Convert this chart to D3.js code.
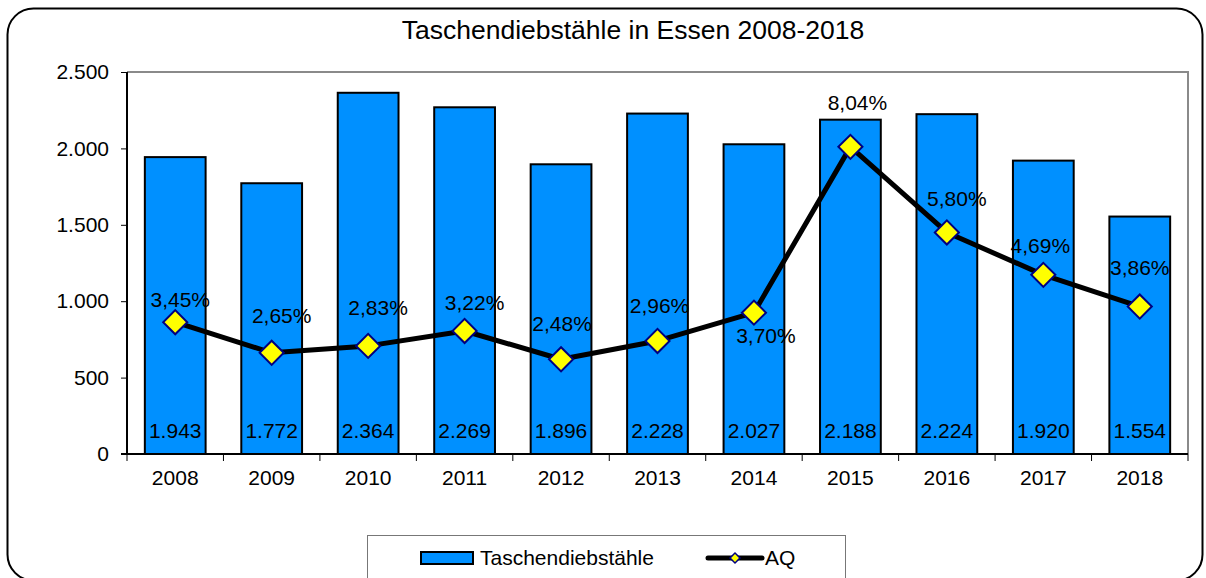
<!DOCTYPE html>
<html><head><meta charset="utf-8">
<script src="https://cdn.jsdelivr.net/npm/d3@7"></script>
<style>html,body{margin:0;padding:0;background:#fff;}svg{display:block;font-family:"Liberation Sans",Arial,sans-serif;}</style>
</head><body>
<svg id="c" width="1206" height="578"></svg>
<script>
const years = ["2008","2009","2010","2011","2012","2013","2014","2015","2016","2017","2018"];
const thefts = [1943,1772,2364,2269,1896,2228,2027,2188,2224,1920,1554];
const aq = [3.45,2.65,2.83,3.22,2.48,2.96,3.70,8.04,5.80,4.69,3.86];
const yTicks = [0,500,1000,1500,2000,2500];
const title = "Taschendiebstähle in Essen 2008-2018";
const seriesNames = ["Taschendiebstähle","AQ"];
// label placement offsets (layout only)
const aqLabelOffset = [[5,-23],[10,-37],[10,-38],[10,-29],[1,-36],[2,-35],[12,23],[7,-44],[10,-34],[-3,-29],[0,-39]];

const FS = 21;
const fmtInt = v => d3.format(",")(v).replace(/,/g,".");
const fmtPct = v => v.toFixed(2).replace(".",",")+"%";

const svg = d3.select("#c");
const L=127, R=1188, T=72, B=454;
const x = d3.scaleBand().domain(years).range([L,R]).paddingInner(0.37).paddingOuter(0.185);
const xb = d3.scaleBand().domain(years).range([L,R]);
const y = d3.scaleLinear().domain([0,2500]).range([B,T]);
const y2 = d3.scaleLinear().domain([0,10]).range([B,T]);

// frame
svg.append("rect").attr("x",7.5).attr("y",8.5).attr("width",1195).attr("height",572).attr("rx",26)
  .attr("fill","#fff").attr("stroke","#000").attr("stroke-width",2);

svg.append("text").attr("x",633).attr("y",39).attr("text-anchor","middle")
  .attr("font-size",26.5).attr("fill","#000").text(title);

// plot area border (top/right grey)
svg.append("path").attr("d",`M${L},${T}H${R}V${B}`).attr("fill","none").attr("stroke","#8a8a8a").attr("stroke-width",2);

// bars
svg.append("g").selectAll("rect").data(thefts).join("rect")
  .attr("x",(d,i)=>x(years[i])).attr("width",x.bandwidth())
  .attr("y",d=>y(d)).attr("height",d=>B-y(d))
  .attr("fill","#0090FF").attr("stroke","#000").attr("stroke-width",2);

// y axis
const ya = svg.append("g").attr("transform",`translate(${L},0)`)
  .call(d3.axisLeft(y).tickValues(yTicks).tickSize(6).tickPadding(12).tickFormat(fmtInt));
ya.select(".domain").attr("stroke","#000").attr("stroke-width",2).attr("d",`M0,${T}V${B}`);
ya.selectAll(".tick line").attr("stroke","#000");
ya.selectAll("text").attr("font-size",FS).attr("font-family","Liberation Sans, Arial, sans-serif").attr("fill","#000");

// x axis
const xa = svg.append("g").attr("transform",`translate(0,${B})`)
  .call(d3.axisBottom(xb).tickSize(0).tickPadding(16));
xa.select(".domain").attr("stroke","#000").attr("stroke-width",2).attr("d",`M${L-6},0H${R}`);
xa.selectAll("text").attr("font-size",FS).attr("font-family","Liberation Sans, Arial, sans-serif").attr("fill","#000");
// category separator ticks
svg.append("g").selectAll("line").data(years.concat(["end"])).join("line")
  .attr("x1",(d,i)=>L+i*xb.step()).attr("x2",(d,i)=>L+i*xb.step())
  .attr("y1",B).attr("y2",B+7).attr("stroke","#000").attr("stroke-width",1);

// bar value labels
svg.append("g").selectAll("text").data(thefts).join("text")
  .attr("x",(d,i)=>xb(years[i])+xb.bandwidth()/2).attr("y",438)
  .attr("text-anchor","middle").attr("font-size",FS).attr("fill","#000").text(fmtInt);

// AQ line
const cx = i => xb(years[i])+xb.bandwidth()/2;
svg.append("path").datum(aq)
  .attr("d",d3.line().x((d,i)=>cx(i)).y(d=>y2(d)))
  .attr("fill","none").attr("stroke","#000").attr("stroke-width",5).attr("stroke-linejoin","round");
svg.append("g").selectAll("path").data(aq).join("path")
  .attr("transform",(d,i)=>`translate(${cx(i)},${y2(d)}) rotate(45)`)
  .attr("d",d3.symbol().type(d3.symbolSquare).size(290))
  .attr("fill","#FFFF00").attr("stroke","#000080").attr("stroke-width",2);
svg.append("g").selectAll("text").data(aq).join("text")
  .attr("x",(d,i)=>cx(i)+aqLabelOffset[i][0]).attr("y",(d,i)=>y2(d)+aqLabelOffset[i][1])
  .attr("dy","0.36em").attr("text-anchor","middle").attr("font-size",FS).attr("fill","#000").text(fmtPct);

// legend
const lg = svg.append("g");
lg.append("rect").attr("x",367.5).attr("y",535.5).attr("width",478).attr("height",60)
  .attr("fill","#fff").attr("stroke","#777").attr("stroke-width",1);
lg.append("rect").attr("x",421).attr("y",552).attr("width",52).attr("height",12)
  .attr("fill","#0090FF").attr("stroke","#000").attr("stroke-width",2);
lg.append("text").attr("x",480).attr("y",565).attr("font-size",FS).attr("fill","#000").text(seriesNames[0]);
lg.append("line").attr("x1",708).attr("x2",762).attr("y1",558).attr("y2",558)
  .attr("stroke","#000").attr("stroke-width",5).attr("stroke-linecap","round");
lg.append("path").attr("transform","translate(735,558) rotate(45)")
  .attr("d",d3.symbol().type(d3.symbolSquare).size(50))
  .attr("fill","#FFFF00").attr("stroke","#000080").attr("stroke-width",1.5);
lg.append("text").attr("x",765).attr("y",565).attr("font-size",FS).attr("fill","#000").text(seriesNames[1]);
</script>
</body></html>
